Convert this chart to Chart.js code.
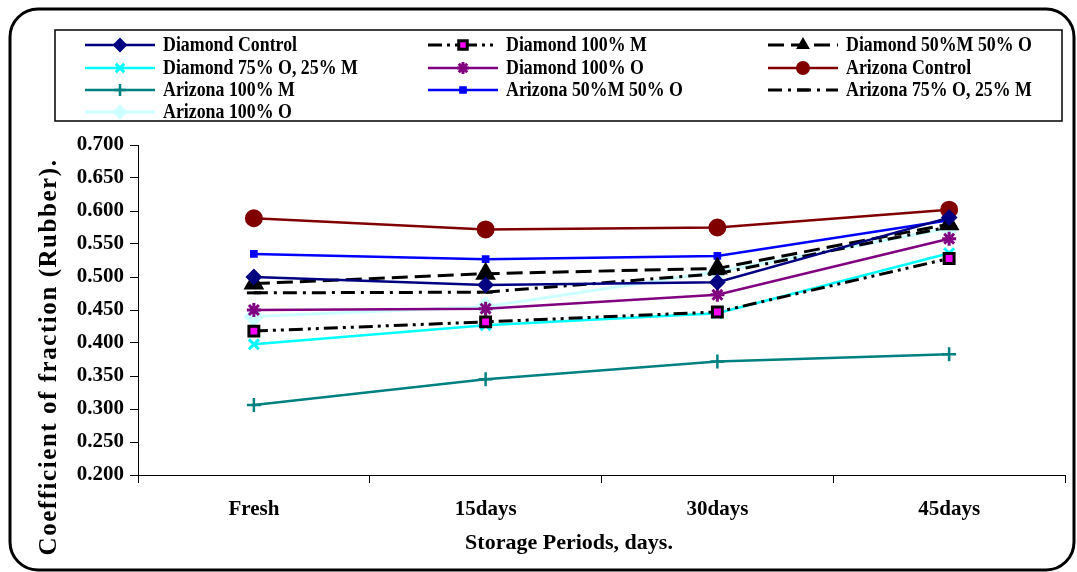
<!DOCTYPE html>
<html>
<head>
<meta charset="utf-8">
<script src="https://cdn.jsdelivr.net/npm/chart.js@4.4.1/dist/chart.umd.min.js"></script>
<style>
    body { margin: 0; background: #ffffff; }
</style>
</head>
<body>
<canvas id="friction-graph" width="1077" height="572"></canvas>
<script>
const periods = ["Fresh", "15days", "30days", "45days"];
const yTicks = [0.2, 0.25, 0.3, 0.35, 0.4, 0.45, 0.5, 0.55, 0.6, 0.65, 0.7];

const diamondControl = [0.500, 0.488, 0.492, 0.590];
const diamond100M = [0.418, 0.432, 0.447, 0.528];
const diamond50M50O = [0.490, 0.505, 0.513, 0.580];
const diamond75O25M = [0.398, 0.427, 0.445, 0.536];
const diamond100O = [0.450, 0.452, 0.473, 0.558];
const arizonaControl = [0.589, 0.572, 0.575, 0.602];
const arizona100M = [0.306, 0.345, 0.372, 0.383];
const arizona50M50O = [0.535, 0.527, 0.532, 0.586];
const arizona75O25M = [0.476, 0.477, 0.505, 0.576];
const arizona100O = [0.440, 0.455, 0.508, 0.574];

const serif = "'Liberation Serif', 'Times New Roman', serif";

function series(label, data, color, style) {
    return {
        label: label,
        data: data,
        borderColor: color,
        backgroundColor: style.fill || color,
        borderWidth: style.width || 2.5,
        borderDash: style.dash || [],
        pointStyle: style.point,
        pointRadius: style.radius || 6,
        pointBorderColor: style.pointBorder || color,
        pointBackgroundColor: style.fill || color,
        pointBorderWidth: style.pointWidth || 2,
        tension: 0,
    };
}

const datasets = [
    series("Diamond Control", diamondControl, "#000080", { point: "rectRot", radius: 7 }),
    series("Diamond 100% M", diamond100M, "#000000", { point: "rect", radius: 7, fill: "#ff00ff", pointBorder: "#000000", pointWidth: 3, dash: [14, 5, 3, 5, 3, 5], width: 3 }),
    series("Diamond 50%M 50% O", diamond50M50O, "#000000", { point: "triangle", radius: 10, dash: [16, 7], width: 3 }),
    series("Diamond 75% O, 25% M", diamond75O25M, "#00ffff", { point: "crossRot", radius: 7, pointWidth: 3 }),
    series("Diamond 100% O", diamond100O, "#800080", { point: "star", radius: 7, pointWidth: 3 }),
    series("Arizona Control", arizonaControl, "#800000", { point: "circle", radius: 8 }),
    series("Arizona 100% M", arizona100M, "#008080", { point: "cross", radius: 7, pointWidth: 2.5 }),
    series("Arizona 50%M 50% O", arizona50M50O, "#0000ff", { point: "rect", radius: 4 }),
    series("Arizona 75% O, 25% M", arizona75O25M, "#000000", { point: "line", radius: 7, pointWidth: 3, dash: [14, 6, 3, 6], width: 3 }),
    series("Arizona 100% O", arizona100O, "#ccffff", { point: "rectRot", radius: 9, width: 3 }),
];

// legend + axis titles + frame drawn on the canvas
const decorations = {
    id: "decorations",
    afterDraw(chart) {
        const ctx = chart.ctx;
        ctx.save();

        // outer rounded frame
        ctx.strokeStyle = "#000000";
        ctx.lineWidth = 3;
        ctx.beginPath();
        ctx.roundRect(10, 9, 1064, 561, 28);
        ctx.stroke();

        // legend box
        ctx.lineWidth = 1.5;
        ctx.strokeRect(55, 30, 1007, 91);

        const colX = [85, 428, 768];
        const rowY = [45, 68, 90, 112];
        chart.data.datasets.forEach((ds, i) => {
            const x = colX[i % 3];
            const y = rowY[Math.floor(i / 3)];
            ctx.save();
            ctx.strokeStyle = ds.borderColor;
            ctx.lineWidth = ds.borderWidth;
            ctx.setLineDash(ds.borderDash);
            ctx.beginPath();
            ctx.moveTo(x, y);
            ctx.lineTo(x + 70, y);
            ctx.stroke();
            ctx.setLineDash([]);
            ctx.fillStyle = ds.pointBackgroundColor;
            ctx.strokeStyle = ds.pointBorderColor;
            ctx.lineWidth = ds.pointBorderWidth;
            Chart.helpers.drawPoint(ctx, {
                pointStyle: ds.pointStyle,
                radius: Math.min(ds.pointRadius, 6),
                borderWidth: ds.pointBorderWidth,
                rotation: 0,
            }, x + 35, y);
            ctx.restore();

            ctx.save();
            ctx.fillStyle = "#000000";
            ctx.font = "bold 21px " + serif;
            ctx.textBaseline = "middle";
            ctx.translate(x + 78, y + 1);
            ctx.scale(0.85, 1);
            ctx.fillText(ds.label, 0, 0);
            ctx.restore();
        });

        // x title
        ctx.fillStyle = "#000000";
        ctx.font = "bold 22px " + serif;
        ctx.textAlign = "center";
        ctx.textBaseline = "middle";
        ctx.fillText("Storage Periods, days.", 569, 543);

        // y title
        const yTitle = "Coefficient of fraction (Rubber).";
        ctx.font = "bold 25px " + serif;
        ctx.translate(50, 357);
        ctx.rotate(-Math.PI / 2);
        ctx.letterSpacing = "0px";
        const w = ctx.measureText(yTitle).width;
        ctx.letterSpacing = Math.max(0, (397 - w) / yTitle.length).toFixed(2) + "px";
        ctx.fillText(yTitle, 0, 0);

        ctx.restore();
    },
};

new Chart(document.getElementById("friction-graph"), {
    type: "line",
    data: {
        labels: periods,
        datasets: datasets,
    },
    options: {
        responsive: false,
        animation: false,
        layout: {
            padding: { top: 145, right: 11, left: 0, bottom: 0 },
        },
        plugins: {
            legend: { display: false },
            tooltip: { enabled: false },
        },
        scales: {
            x: {
                offset: true,
                afterFit: (scale) => { scale.height = 97; },
                grid: {
                    offset: true,
                    drawOnChartArea: false,
                    drawTicks: true,
                    tickLength: 8,
                    color: "#000000",
                },
                border: { color: "#000000", width: 1 },
                ticks: {
                    color: "#000000",
                    padding: 14,
                    font: { family: serif, size: 21, weight: "bold" },
                },
            },
            y: {
                min: yTicks[0],
                max: yTicks[yTicks.length - 1],
                afterFit: (scale) => { scale.width = 138; },
                afterBuildTicks: (scale) => { scale.ticks = yTicks.map((v) => ({ value: v })); },
                grid: {
                    drawOnChartArea: false,
                    drawTicks: true,
                    tickLength: 8,
                    color: "#000000",
                },
                border: { color: "#000000", width: 1 },
                ticks: {
                    color: "#000000",
                    padding: 6,
                    font: { family: serif, size: 21, weight: "bold" },
                    callback: (v) => Number(v).toFixed(3),
                },
            },
        },
    },
    plugins: [decorations],
});
</script>
</body>
</html>
